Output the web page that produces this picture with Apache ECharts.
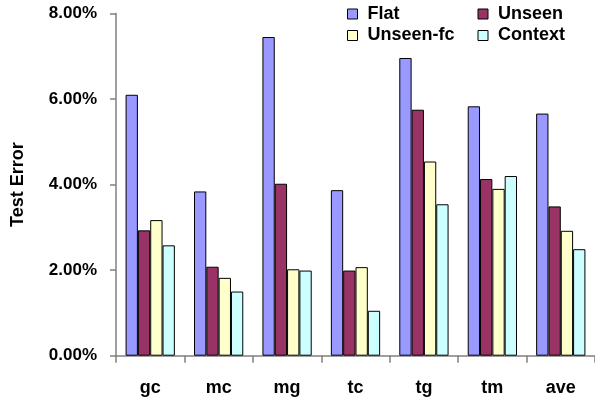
<!DOCTYPE html>
<html><head><meta charset="utf-8">
<script src="https://cdn.jsdelivr.net/npm/echarts@6/dist/echarts.min.js"></script>
<style>html,body{margin:0;padding:0;background:#fff}#c{width:595px;height:405px}</style>
</head><body><div id="c"></div>
<script>
const categories = ['gc','mc','mg','tc','tg','tm','ave'];
const flat     = [6.10, 3.84, 7.45, 3.87, 6.96, 5.83, 5.66];
const unseen   = [2.93, 2.08, 4.02, 1.99, 5.75, 4.13, 3.49];
const unseenFc = [3.17, 1.82, 2.02, 2.07, 4.54, 3.90, 2.92];
const context  = [2.58, 1.50, 1.99, 1.05, 3.54, 4.20, 2.49];
const yTicks = [0, 2, 4, 6, 8];

const FONT = "'Liberation Sans', Arial, sans-serif";
const chart = echarts.init(document.getElementById('c'));
function bar(name, data, color){
  return {name, type:'bar', data, barGap:'0%', barCategoryGap:'28%',
    itemStyle:{color, borderColor:'#000', borderWidth:1}};
}
const legendText = {fontFamily:FONT, fontWeight:'bold', fontSize:18, color:'#000'};
const legendBase = {orient:'vertical', top:5, padding:0, itemWidth:10, itemHeight:10, itemGap:3.5,
  textStyle:legendText, icon:'rect', formatter:' {name}',
  itemStyle:{borderColor:'#000', borderWidth:1}};
chart.setOption({
  animation:false,
  grid:{left:116, top:13.5, bottom:49.3, width:482, containLabel:false},
  legend:[
    Object.assign({left:347, data:['Flat','Unseen-fc']}, legendBase),
    Object.assign({left:477.5, data:['Unseen','Context']}, legendBase)
  ],
  xAxis:{type:'category', data:categories,
    axisLine:{lineStyle:{color:'#808080', width:1.5}},
    axisTick:{show:true, length:7, lineStyle:{color:'#808080', width:1.5}},
    axisLabel:{fontFamily:FONT, fontWeight:'bold', fontSize:18, color:'#000', margin:23}},
  yAxis:{type:'value', min:yTicks[0], max:yTicks[yTicks.length-1], interval:2,
    name:'Test Error', nameLocation:'middle', nameGap:89, nameRotate:90,
    nameTextStyle:{fontFamily:FONT, fontWeight:'bold', fontSize:18, color:'#000'},
    axisLine:{show:true, lineStyle:{color:'#808080', width:1.5}},
    axisTick:{show:true, length:6, inside:false, lineStyle:{color:'#808080', width:1.5}},
    splitLine:{show:false},
    axisLabel:{fontFamily:FONT, fontWeight:'bold', fontSize:17, color:'#000', margin:19,
      formatter:v=>v.toFixed(2)+'%'}},
  series:[
    bar('Flat', flat, '#9999FF'),
    bar('Unseen', unseen, '#993366'),
    bar('Unseen-fc', unseenFc, '#FFFFCC'),
    bar('Context', context, '#CCFFFF')
  ]
});
</script></body></html>
